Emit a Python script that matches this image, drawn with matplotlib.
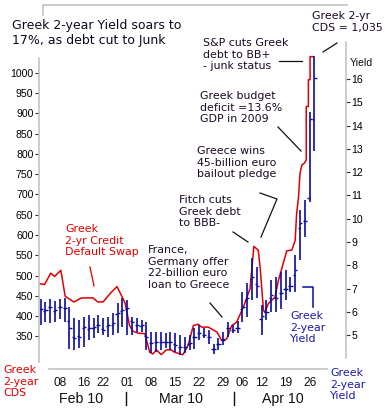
import matplotlib
matplotlib.use("Agg")
import matplotlib.pyplot as plt
from matplotlib.lines import Line2D
import matplotlib.transforms as mtrans

# ---------------- data ----------------
# CDS (bp), positions in trading-day units
cds_day = [-0.2, 0.8, 2.1, 2.9, 4.2, 5.1, 6.9, 8.5, 10.9, 11.9, 13.0, 14.4, 15.9,
           17.6, 18.5, 19.2, 20.3, 21.7, 22.7, 23.4, 24.1, 25.1, 26.2, 27.2, 27.9,
           29.6, 30.7, 31.8, 32.8, 33.5, 34.9, 36.7, 37.7, 38.75, 39.8, 40.8, 42.2,
           43.6, 44.0, 44.4, 45.3, 45.7, 46.4, 46.7, 47.4, 48.8, 49.5, 50.5, 51.25,
           52.3, 53.0, 53.3, 53.7, 54.0, 54.4, 54.9, 55.3, 55.3, 55.75, 55.75, 56.1,
           56.1, 56.7]
cds_val = [480, 478, 506, 498, 513, 449, 435, 445, 445, 435, 435, 455, 473,
           432, 377, 363, 358, 357, 311, 307, 317, 305, 317, 317, 311,
           305, 328, 377, 380, 373, 373, 361, 340, 344, 377, 385, 422,
           468, 521, 572, 563, 521, 414, 410, 431, 447, 488, 530, 561,
           563, 587, 653, 694, 752, 773, 777, 785, 917, 917, 983, 983,
           1040, 1040]

# Greek 2-year yield OHLC (%), one bar per trading day
yld_day = list(range(58))
yld_high = [6.57, 6.43, 6.54, 6.48, 6.54, 6.58, 6.20, 5.72, 5.65, 5.79, 5.86, 5.72, 5.86, 5.72,
            5.79, 5.93, 6.36, 6.58, 6.51, 5.79, 5.72, 5.65, 5.58, 5.15, 5.15, 5.15, 5.07, 5.15,
            5.07, 5.00, 4.93, 5.00, 5.30, 5.43, 5.30, 5.20, 4.60, 4.86, 5.15, 5.58, 5.43, 5.60,
            6.87, 7.23, 8.30, 7.94, 6.30, 6.50, 7.37, 7.50, 7.73, 7.80, 7.50, 8.44, 10.37, 10.80,
            14.60, 17.00]
yld_low = [5.43, 5.57, 5.50, 5.57, 5.71, 5.58, 4.40, 4.36, 4.43, 4.50, 4.79, 4.86, 5.07, 5.00,
           4.93, 5.00, 5.07, 5.36, 5.00, 5.00, 5.15, 5.15, 4.36, 4.21, 4.29, 4.36, 4.43, 4.36,
           4.29, 4.14, 4.21, 4.36, 4.40, 4.79, 4.86, 4.60, 4.20, 4.36, 4.57, 4.93, 5.07, 5.10,
           5.58, 5.79, 6.50, 6.58, 4.99, 5.65, 6.00, 6.00, 6.10, 6.50, 6.87, 6.87, 8.22, 9.20,
           10.70, 12.90]
yld_open = [6.10, 6.05, 6.20, 6.05, 6.20, 6.15, 5.60, 4.90, 4.95, 5.30, 5.25, 5.30, 5.45, 5.25,
            5.40, 5.45, 5.90, 6.05, 6.10, 5.60, 5.45, 5.40, 4.95, 4.65, 4.70, 4.70, 4.70, 4.70,
            4.60, 4.50, 4.50, 4.60, 4.90, 5.10, 5.00, 4.90, 4.40, 4.60, 4.80, 5.30, 5.20, 5.30,
            6.10, 6.50, 7.40, 7.20, 5.70, 6.00, 6.60, 6.60, 6.80, 7.00, 7.10, 7.60, 9.60, 9.90,
            10.90, 14.30]
yld_close = [6.14, 6.08, 6.22, 6.08, 6.22, 6.15, 5.30, 4.87, 4.93, 5.36, 5.29, 5.36, 5.43, 5.22,
             5.43, 5.50, 5.93, 6.08, 6.15, 5.58, 5.43, 5.43, 4.93, 4.64, 4.72, 4.72, 4.72, 4.72,
             4.57, 4.50, 4.50, 4.64, 4.90, 5.10, 5.00, 4.90, 4.40, 4.60, 4.80, 5.30, 5.20, 5.30,
             6.20, 6.60, 7.50, 7.10, 5.80, 6.00, 6.70, 6.60, 6.80, 7.00, 7.10, 7.80, 9.80, 9.90,
             14.30, 16.05]

# x-axis labels
day_ticks = [4, 9, 13, 18, 23, 28, 33, 38, 42, 46, 51, 56]
day_labels = ["08", "16", "22", "01", "08", "15", "22", "29", "06", "12", "19", "26"]
months = ["Feb 10", "Mar 10", "Apr 10"]
cds_ticks = list(range(350, 1001, 50))
yld_ticks = list(range(5, 17))

# ---------------- figure ----------------
W, H = 390, 409
fig = plt.figure(figsize=(W / 100, H / 100), dpi=100)

def fx(x):
    return x / W

def fy(y):
    return 1 - y / H

RED = "#e00000"
BLUE = "#0a0a9c"
GRAY = "#c4c4c4"
TXT = "#1a0a24"
TICKFONT = "Liberation Sans"

ax_l, ax_r, ax_t, ax_b = 39, 345.6, 42, 362
ax = fig.add_axes([fx(ax_l), fy(ax_b), fx(ax_r) - fx(ax_l), fy(ax_t) - fy(ax_b)])
ax.set_xlim(-0.35, 63.5)
ax.set_ylim(287, 1076)
ax2 = ax.twinx()
ax2.set_ylim(3.84, 17.6)

for a in (ax, ax2):
    for s in a.spines.values():
        s.set_visible(False)
    a.patch.set_visible(False)

ax.plot(cds_day, cds_val, color=RED, lw=1.1, zorder=3)

# OHLC bars
ax2.vlines(yld_day, yld_low, yld_high, color=BLUE, lw=1.2, zorder=2)
ax2.hlines(yld_open, [d - 0.45 for d in yld_day], yld_day, color=BLUE, lw=1.0)
ax2.hlines(yld_close, yld_day, [d + 0.45 for d in yld_day], color=BLUE, lw=1.0)

# left axis
ax.set_yticks(cds_ticks)
ax.set_yticklabels([str(v) for v in cds_ticks], fontsize=7.6, family=TICKFONT)
ax.tick_params(axis="y", direction="out", length=3, width=0.8, pad=1, color="#303030")
ax.set_xticks([])
ax2.set_yticks(yld_ticks)
ax2.set_yticklabels([str(v) for v in yld_ticks], fontsize=7.6, family=TICKFONT)
ax2.tick_params(axis="y", direction="out", length=3, width=0.8, pad=1, color="#303030")

def fline(xs, ys, **kw):
    fig.add_artist(Line2D([fx(v) for v in xs], [fy(v) for v in ys], transform=fig.transFigure, **kw))

fline([39, 39], [58, 362], color=GRAY, lw=1.2)
fline([345.6, 345.6], [42, 358], color=GRAY, lw=1.2)
fline([49, 327], [369.3, 369.3], color=GRAY, lw=1.2)
fline([43, 347], [5, 5], color=GRAY, lw=1.2)
fline([43, 43], [5, 15], color=GRAY, lw=1.2)

trans = mtrans.blended_transform_factory(ax.transData, fig.transFigure)
for d, lab in zip(day_ticks, day_labels):
    fig.text(d, fy(383), lab, transform=trans, ha="center", va="center",
             fontsize=8.6, family=TICKFONT, color="#111111")
for xm, m in zip([81, 181, 283], months):
    fig.text(fx(xm), fy(399), m, ha="center", va="center", fontsize=10.2,
             family=TICKFONT, color="#111111")
fline([126, 126], [392, 405], color="#111111", lw=1)
fline([234, 234], [392, 405], color="#111111", lw=1)

fig.text(fx(350), fy(63), "Yield", fontsize=7.6, family=TICKFONT, va="center", ha="left",
         color="#111111")

fig.text(fx(12), fy(19), "Greek 2-year Yield soars to\n17%, as debt cut to Junk",
         fontsize=9.0, va="top", ha="left", color="#0a0a20", linespacing=1.2)

ann = dict(fontsize=7.9, va="top", ha="left", linespacing=1.2)
fig.text(fx(312), fy(11), "Greek 2-yr\nCDS = 1,035", color=TXT, **ann)
fig.text(fx(203), fy(38), "S&P cuts Greek\ndebt to BB+\n- junk status", color=TXT, **ann)
fig.text(fx(200), fy(91), "Greek budget\ndeficit =13.6%\nGDP in 2009", color=TXT, **ann)
fig.text(fx(197), fy(146), "Greece wins\n45-billion euro\nbailout pledge", color=TXT, **ann)
fig.text(fx(179), fy(195), "Fitch cuts\nGreek debt\nto BBB-", color=TXT, **ann)
fig.text(fx(148), fy(245), "France,\nGermany offer\n22-billion euro\nloan to Greece", color=TXT, **ann)
fig.text(fx(65), fy(224), "Greek\n2-yr Credit\nDefault Swap", color=RED, **ann)
fig.text(fx(290), fy(311), "Greek\n2-year\nYield", color="#1a1ab0", **ann)
fig.text(fx(3), fy(365), "Greek\n2-year\nCDS", color=RED, **ann)
fig.text(fx(330), fy(368), "Greek\n2-year\nYield", color="#1a1ab0", **ann)

lk = dict(color="#111111", lw=0.9)
fline([323, 337], [52, 43], **lk)
fline([279, 302], [61, 61], **lk)
fline([278, 301], [127, 151], **lk)
fline([260, 277, 261], [193, 199, 237], **lk)
fline([233, 248], [232, 242], **lk)
fline([210, 222], [303, 317], **lk)
fline([90, 94], [267, 286], color=RED, lw=0.9)
fline([303, 313, 313], [287, 287, 307], color=BLUE, lw=1.1)

fig.savefig("out.png", dpi=100)
